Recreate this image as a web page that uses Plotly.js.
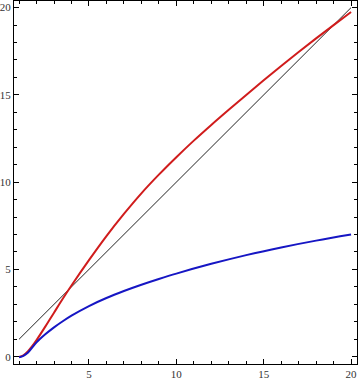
<!DOCTYPE html>
<html>
<head>
<meta charset="utf-8">
<script src="https://cdn.plot.ly/plotly-3.0.1.min.js"></script>
<style>html,body{margin:0;padding:0;background:#fff}#chart{width:360px;height:379px}</style>
</head>
<body>
<div id="chart"></div>
<script>
const lineX = [1, 20];
const lineY = [1, 20];

const redX = [1, 1.25, 1.5, 1.75, 2, 2.5, 3, 3.5, 4, 5, 6, 7, 8, 9, 10, 11, 12, 13, 14, 15, 16, 17, 18, 19, 20];
const redY = [-0.02, 0.08, 0.3, 0.6, 0.95, 1.72, 2.52, 3.32, 4.08, 5.53, 6.91, 8.18, 9.36, 10.43, 11.43, 12.38, 13.28, 14.15, 15.0, 15.84, 16.66, 17.46, 18.24, 19.0, 19.75];

const blueX = [1, 1.25, 1.5, 1.75, 2, 2.5, 3, 3.5, 4, 5, 6, 7, 8, 9, 10, 12, 14, 16, 18, 20];
const blueY = [-0.03, 0.05, 0.22, 0.52, 0.82, 1.28, 1.68, 2.03, 2.35, 2.9, 3.36, 3.76, 4.12, 4.45, 4.76, 5.32, 5.82, 6.26, 6.65, 7.0];

const xTicks = [5, 10, 15, 20];
const yTicks = [0, 5, 10, 15, 20];

const traces = [
  {x: lineX, y: lineY, mode: 'lines', line: {color: '#222', width: 1}, hoverinfo: 'skip'},
  {x: redX, y: redY, mode: 'lines', line: {color: '#d01c1c', width: 2, shape: 'spline', smoothing: 1}},
  {x: blueX, y: blueY, mode: 'lines', line: {color: '#1616c4', width: 2, shape: 'spline', smoothing: 1}}
];

const axisCommon = {
  showgrid: false, zeroline: false, showline: true, linecolor: '#000', linewidth: 1,
  mirror: 'ticks', ticks: 'inside', ticklen: 5, tickcolor: '#000', tickwidth: 1,
  tickfont: {family: 'Liberation Serif, serif', size: 11, color: '#333'},
  minor: {dtick: 1, ticks: 'inside', ticklen: 3, tickcolor: '#000', tickwidth: 1, showgrid: false}
};

const layout = {
  width: 360, height: 379,
  margin: {l: 14, r: 3, t: 1, b: 15},
  paper_bgcolor: '#fff', plot_bgcolor: '#fff',
  showlegend: false,
  xaxis: Object.assign({}, axisCommon, {range: [0.71, 20.34], tickvals: xTicks, ticktext: xTicks.map(String), ticklabelstandoff: 0}),
  yaxis: Object.assign({}, axisCommon, {range: [-0.42, 20.38], tickvals: yTicks, ticktext: yTicks.map(String), ticklabelstandoff: 0})
};

Plotly.newPlot('chart', traces, layout, {displayModeBar: false, staticPlot: true});
</script>
</body>
</html>
